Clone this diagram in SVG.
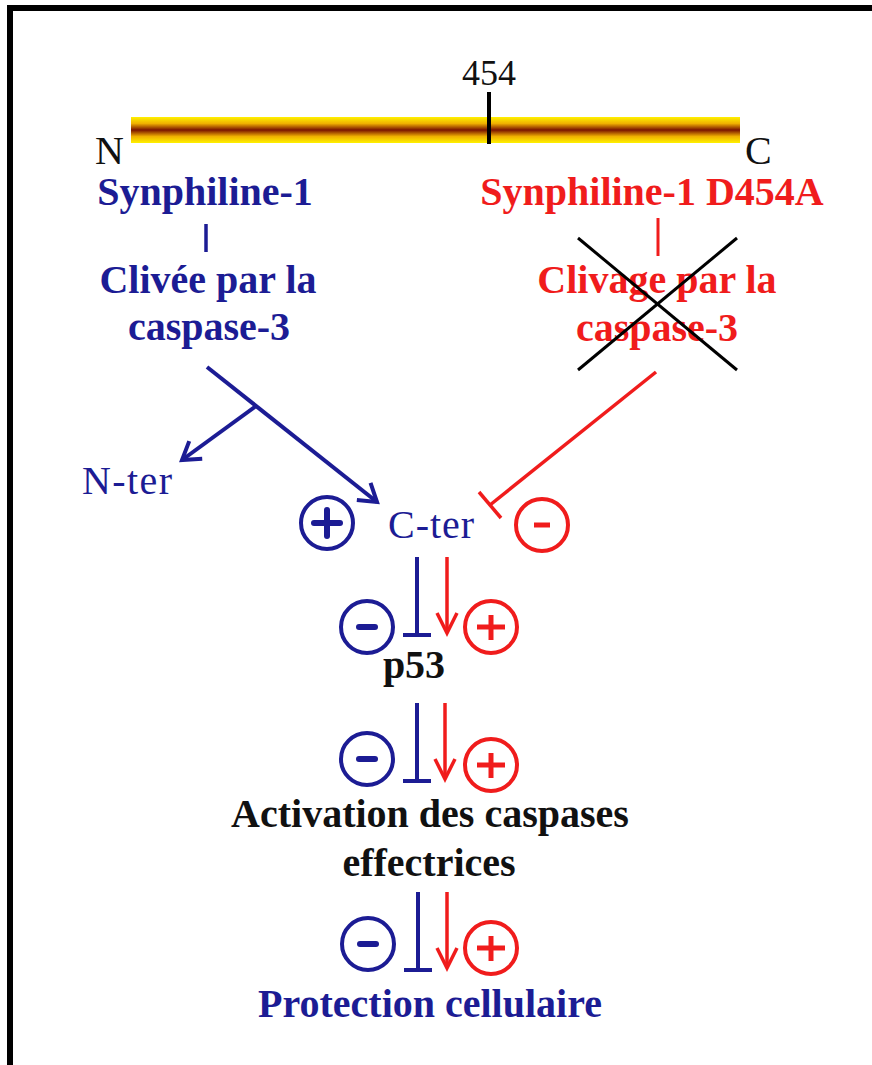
<svg xmlns="http://www.w3.org/2000/svg" width="872" height="1065" viewBox="0 0 872 1065">
<style>
.t{font-family:"Liberation Serif","Times New Roman",serif;font-weight:bold;font-size:40px;text-anchor:middle}
.r{font-family:"Liberation Serif","Times New Roman",serif;font-weight:normal}
.blue{fill:#1c1c94}
.red{fill:#f01c1c}
.blk{fill:#111}
.lb{stroke:#1c1c94;stroke-width:4;fill:none;stroke-linecap:butt}
.lr{stroke:#f01c1c;stroke-width:3.5;fill:none}
.cb{stroke:#1c1c94;stroke-width:4;fill:none}
.cr{stroke:#f01c1c;stroke-width:4;fill:none}
.sb{stroke:#1c1c94;stroke-width:6;stroke-linecap:round}
.sr{stroke:#f01c1c;stroke-width:5;stroke-linecap:butt}
</style>
<defs>
<linearGradient id="bar" x1="0" y1="0" x2="0" y2="1">
<stop offset="0" stop-color="#fff200"/>
<stop offset="0.25" stop-color="#f0b000"/>
<stop offset="0.5" stop-color="#7a1200"/>
<stop offset="0.75" stop-color="#f0b000"/>
<stop offset="1" stop-color="#fff200"/>
</linearGradient>
<marker id="ab" markerUnits="userSpaceOnUse" markerWidth="30" markerHeight="30" refX="0" refY="0" viewBox="-20 -15 24 30" orient="auto" overflow="visible">
<path d="M-17,-11 L0,0 L-17,11" fill="none" stroke="#1c1c94" stroke-width="4"/>
</marker>
<marker id="ar" markerUnits="userSpaceOnUse" markerWidth="30" markerHeight="30" refX="0" refY="0" viewBox="-20 -15 24 30" orient="auto" overflow="visible">
<path d="M-20,-10 L0,0 L-20,10" fill="none" stroke="#f01c1c" stroke-width="3.5"/>
</marker>
</defs>
<rect width="872" height="1065" fill="#fff"/>
<g id="frame">
<line x1="10" y1="5" x2="10" y2="1065" stroke="#000" stroke-width="6"/>
<line x1="7" y1="8" x2="872" y2="8" stroke="#000" stroke-width="6"/>
</g>
<g id="protein">
<rect x="131" y="117" width="609" height="26" fill="url(#bar)"/>
<line x1="489" y1="92" x2="489" y2="144" stroke="#000" stroke-width="4"/>
<text x="489" y="85" class="r" font-size="36" text-anchor="middle" fill="#111">454</text>
<text x="95" y="164" class="r" font-size="40" fill="#111">N</text>
<text x="745" y="164" class="r" font-size="40" fill="#111">C</text>
</g>
<g id="syn1">
<text x="205" y="205" class="t blue">Synphiline-1</text>
<line x1="206" y1="224" x2="206" y2="252" stroke="#1c1c94" stroke-width="3.5"/>
<text x="208" y="293" class="t blue">Clivée par la</text>
<text x="209" y="340" class="t blue">caspase-3</text>
</g>
<g id="syn1mut">
<text x="652" y="205" class="t red">Synphiline-1 D454A</text>
<line x1="658" y1="218" x2="658" y2="256" stroke="#f01c1c" stroke-width="3"/>
<text x="657" y="293" class="t red">Clivage par la</text>
<text x="657" y="341" class="t red">caspase-3</text>
<line x1="578" y1="238" x2="737" y2="370" stroke="#000" stroke-width="3"/>
<line x1="737" y1="238" x2="578" y2="370" stroke="#000" stroke-width="3"/>
</g>
<g id="nter"><text x="82" y="494" class="r blue" font-size="40" textLength="90">N-ter</text></g>
<g id="cter">
<text x="388" y="538" class="r blue" font-size="40" textLength="86">C-ter</text>
<circle cx="327" cy="523" r="26" class="cb"/>
<line x1="314" y1="523" x2="340" y2="523" class="sb" stroke-linecap="butt" stroke-width="5"/>
<line x1="327" y1="510" x2="327" y2="536" class="sb" stroke-linecap="butt" stroke-width="5"/>
<circle cx="542" cy="525" r="26" class="cr"/>
<line x1="534" y1="525" x2="550" y2="525" class="sr" stroke-width="6"/>
</g>
<g id="p53"><text x="414" y="678" class="t blk">p53</text></g>
<g id="activation">
<text x="430" y="827" class="t blk">Activation des caspases</text>
<text x="429" y="876" class="t blk">effectrices</text>
</g>
<g id="protection"><text x="430" y="1017" class="t blue">Protection cellulaire</text></g>
<g id="signs">
<circle cx="367" cy="627" r="26" class="cb"/>
<line x1="359" y1="627" x2="375" y2="627" class="sb"/>
<circle cx="491" cy="627" r="26" class="cr"/>
<line x1="477" y1="627" x2="505" y2="627" class="sr"/>
<line x1="491" y1="615" x2="491" y2="640" class="sr"/>
<circle cx="367" cy="759" r="26" class="cb"/>
<line x1="359" y1="759" x2="375" y2="759" class="sb"/>
<circle cx="491" cy="765" r="26" class="cr"/>
<line x1="477" y1="765" x2="505" y2="765" class="sr"/>
<line x1="491" y1="753" x2="491" y2="778" class="sr"/>
<circle cx="368" cy="944" r="26" class="cb"/>
<line x1="360" y1="944" x2="376" y2="944" class="sb"/>
<circle cx="491" cy="948" r="26" class="cr"/>
<line x1="477" y1="948" x2="505" y2="948" class="sr"/>
<line x1="491" y1="936" x2="491" y2="961" class="sr"/>
</g>
<g id="connectors">
<line x1="207" y1="367" x2="377" y2="502" class="lb" marker-end="url(#ab)"/>
<line x1="256" y1="406" x2="182" y2="460" class="lb" marker-end="url(#ab)"/>
<line x1="656" y1="372" x2="490" y2="505" class="lr"/>
<line x1="479" y1="492" x2="501" y2="518" class="lr"/>
<line x1="417" y1="557" x2="417" y2="635" class="lb"/>
<line x1="403" y1="635" x2="431" y2="635" class="lb"/>
<line x1="447" y1="557" x2="447" y2="633" class="lr" marker-end="url(#ar)"/>
<line x1="417" y1="703" x2="417" y2="781" class="lb"/>
<line x1="403" y1="781" x2="431" y2="781" class="lb"/>
<line x1="445" y1="703" x2="445" y2="779" class="lr" marker-end="url(#ar)"/>
<line x1="418" y1="892" x2="418" y2="970" class="lb"/>
<line x1="404" y1="970" x2="432" y2="970" class="lb"/>
<line x1="447" y1="892" x2="447" y2="968" class="lr" marker-end="url(#ar)"/>
</g>
</svg>
